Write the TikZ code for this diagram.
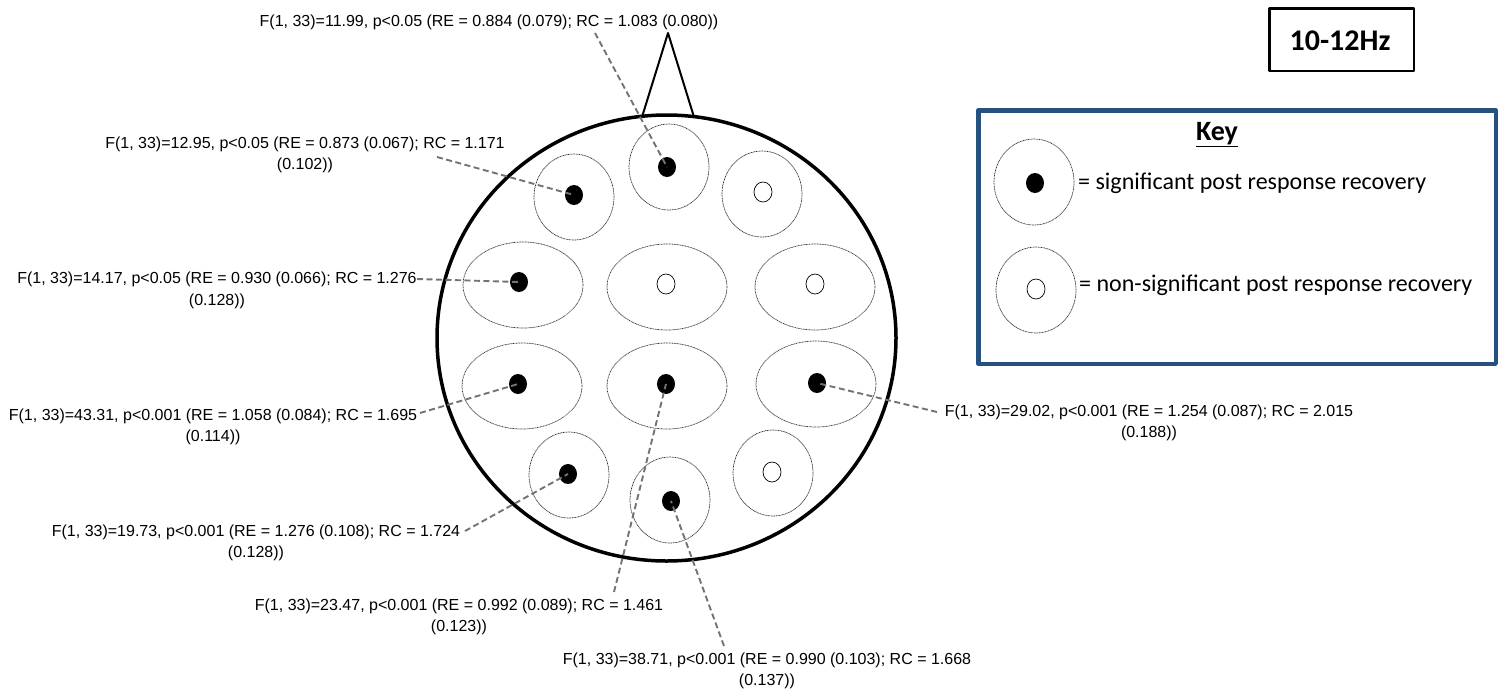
\documentclass[tikz,border=0pt]{standalone}
\usepackage{fontspec}
\setmainfont{Liberation Sans}
\newfontfamily\keyfont{Carlito}
\usetikzlibrary{shapes.geometric}
\definecolor{keyblue}{RGB}{38,80,125}
\begin{document}
\begin{tikzpicture}[x=1pt, y=-1pt, line join=round,
  outer/.style={ellipse, draw=black!80, line width=0.7pt, dash pattern=on 1pt off 0.6pt, minimum width=80pt, minimum height=86pt, inner sep=0pt},
  wide/.style={outer, minimum width=120pt},
  sigdot/.style={ellipse, fill=black, minimum width=18pt, minimum height=20pt, inner sep=0pt},
  nsdot/.style={ellipse, draw=black, line width=0.7pt, minimum width=18pt, minimum height=20pt, inner sep=0pt},
  lbl/.style={font=\fontsize{16}{21.5}\selectfont, align=center, inner sep=0pt},
  link/.style={draw=black!55, line width=1.9pt, dash pattern=on 6pt off 3.5pt},
  keytext/.style={font=\keyfont\fontsize{24}{28}\selectfont, anchor=base west, inner sep=0pt}]
	\useasboundingbox (0,0) rectangle (1503,689);
	\node[ellipse, draw, line width=3.5pt, minimum width=459pt, minimum height=446pt, inner sep=0pt] (head) at (666.5,338) {};
	\draw[line width=2pt] (642,117) -- (668,33) -- (694,117);
	\foreach \n/\ox/\oy/\dx/\dy/\o/\d in {r1l/574/197/574/195/outer/sigdot, r1c/669/167/667/167/outer/sigdot, r1r/762/194/763/192/outer/nsdot,
		r2l/523/285/519/282/wide/sigdot, r2c/667/287/666/284/wide/nsdot, r2r/815/287/815/284/wide/nsdot,
		r3l/522/386/518/384/wide/sigdot, r3c/667/386/666/384/wide/sigdot, r3r/816/384/817/383/wide/sigdot,
		r4l/569/475/568/474/outer/sigdot, r4c/670/500/671/501/outer/sigdot, r4r/773/473/772/472/outer/nsdot}
	{
		\node[\o] (\n-o) at (\ox,\oy) {};
		\node[\d] (\n) at (\dx,\dy) {};
	}
	\node[lbl] (t-r1c) at (489,22) {F(1, 33)=11.99, p<0.05 (RE = 0.884 (0.079); RC = 1.083 (0.080))};
	\node[lbl] (t-r1l) at (305,155) {F(1, 33)=12.95, p<0.05 (RE = 0.873 (0.067); RC = 1.171\\(0.102))};
	\node[lbl] (t-r2l) at (217,290.5) {F(1, 33)=14.17, p<0.05 (RE = 0.930 (0.066); RC = 1.276\\(0.128))};
	\node[lbl] (t-r3l) at (213,427) {F(1, 33)=43.31, p<0.001 (RE = 1.058 (0.084); RC = 1.695\\(0.114))};
	\node[lbl] (t-r4l) at (256,543) {F(1, 33)=19.73, p<0.001 (RE = 1.276 (0.108); RC = 1.724\\(0.128))};
	\node[lbl] (t-r3c) at (459,617) {F(1, 33)=23.47, p<0.001 (RE = 0.992 (0.089); RC = 1.461\\(0.123))};
	\node[lbl] (t-r4c) at (767,671) {F(1, 33)=38.71, p<0.001 (RE = 0.990 (0.103); RC = 1.668\\(0.137))};
	\node[lbl] (t-r3r) at (1149,423) {F(1, 33)=29.02, p<0.001 (RE = 1.254 (0.087); RC = 2.015\\(0.188))};
	\coordinate (l-r1c) at (595,33);
	\coordinate (l-r1l) at (437,157);
	\coordinate (l-r2l) at (417,279);
	\coordinate (l-r3l) at (420,413);
	\coordinate (l-r4l) at (465,531);
	\coordinate (l-r3c) at (614,592);
	\coordinate (l-r4c) at (724,646);
	\coordinate (l-r3r) at (937,412);
	\foreach \n in {r1c,r1l,r2l,r3l,r4l,r3c,r4c,r3r}
	\draw[link] (l-\n) -- (\n.center);
	\node[draw, line width=2.5pt, minimum width=144.5pt, minimum height=62.5pt, inner sep=0pt] (bandbox) at (1341.5,39.5) {};
	\node[font=\keyfont\bfseries\fontsize{30}{34}\selectfont, anchor=base, inner sep=0pt] (band) at (1340,50) {10-12Hz};
	\node[draw=keyblue, line width=4.5pt, minimum width=517.5pt, minimum height=253.5pt, inner sep=0pt] (keybox) at (1237,237) {};
	\node[font=\keyfont\bfseries\fontsize{28}{32}\selectfont, anchor=base, inner sep=0pt] (keytitle) at (1217,140) {\underline{Key}};
	\node[outer] (keysig-o) at (1034,182) {};
	\node[sigdot] (keysig) at (1035,183) {};
	\node[outer] (keyns-o) at (1036,290) {};
	\node[nsdot] (keyns) at (1036,289) {};
	\node[keytext] (keysig-t) at (1078,189) {= significant post response recovery};
	\node[keytext] (keyns-t) at (1079,291) {= non-significant post response recovery};
\end{tikzpicture}
\end{document}
